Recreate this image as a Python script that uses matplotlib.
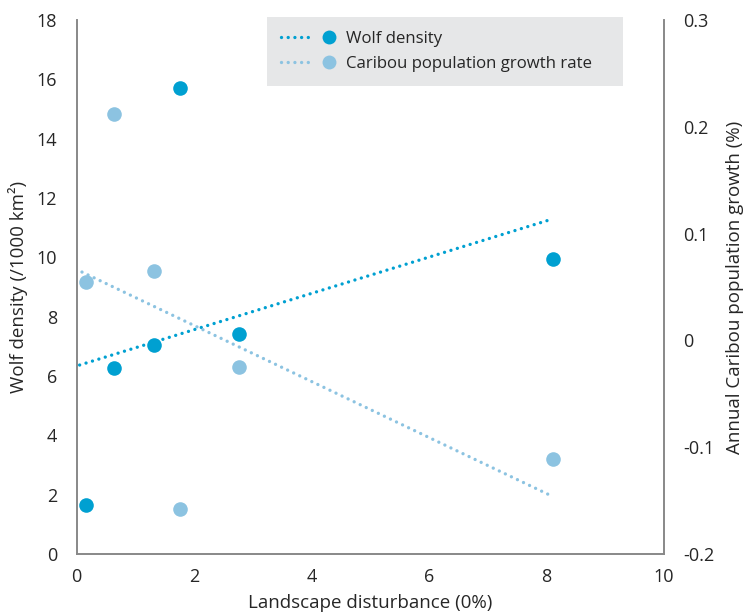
import matplotlib
matplotlib.use("Agg")
import matplotlib.pyplot as plt
from matplotlib.lines import Line2D
from matplotlib.legend_handler import HandlerBase

plt.rcParams['font.family'] = ['Open Sans', 'DejaVu Sans']

# data
disturbance = [0.15, 0.64, 1.32, 1.76, 2.77, 8.11]
wolf_density = [1.65, 6.27, 7.05, 15.72, 7.40, 9.93]
caribou_growth = [0.055, 0.212, 0.065, -0.158, -0.025, -0.111]

# trend line end points
wolf_trend_x = [0.05, 8.08]
wolf_trend_y = [6.37, 11.28]
caribou_trend_x = [0.09, 8.1]
caribou_trend_y = [0.064, -0.146]

dark = '#00a0d1'
light = '#8cc3e1'
grey = '#888888'
txt = '#262626'

fig = plt.figure(figsize=(7.55, 6.14), dpi=100)
ax = fig.add_axes([76.7/755, 60/614, 587.3/755, 534/614])
ax2 = ax.twinx()

dots = (0, (0.01, 2.0))
ax.plot(wolf_trend_x, wolf_trend_y, color=dark, lw=2.4, ls=dots, dash_capstyle='round')
ax2.plot(caribou_trend_x, caribou_trend_y, color=light, lw=2.4, ls=dots, dash_capstyle='round')
ax.plot(disturbance, wolf_density, 'o', color=dark, ms=10.5, mew=0)
ax2.plot(disturbance, caribou_growth, 'o', color=light, ms=10.5, mew=0)

ax.set_xlim(0, 10)
ax.set_ylim(0, 18)
ax2.set_ylim(-0.2, 0.3)
ax.set_xticks(range(0, 11, 2))
ax.set_yticks(range(0, 19, 2))
ax2.set_yticks([-0.2, -0.1, 0, 0.1, 0.2, 0.3])
ax2.set_yticklabels(['-0.2', '-0.1', '0', '0.1', '0.2', '0.3'])

for a in (ax, ax2):
    a.spines['top'].set_visible(False)
    for s in ('left', 'right', 'bottom'):
        a.spines[s].set_color(grey)
        a.spines[s].set_linewidth(1.2)
    a.tick_params(length=0, labelsize=13, labelcolor=txt)
ax.tick_params(axis='y', pad=14)
ax.tick_params(axis='x', pad=10)
ax2.tick_params(axis='y', pad=14)

ax.set_xlabel('Landscape disturbance (0%)', fontsize=13.5, color=txt, labelpad=6)
ax.set_ylabel('Wolf density (/1000 km²)', fontsize=13.5, color=txt, labelpad=6)
ax2.set_ylabel('Annual Caribou population growth (%)', fontsize=13.5, color=txt, labelpad=8)


class LineThenDot(HandlerBase):
    # dotted line segment followed by a separate marker
    def create_artists(self, legend, orig, xd, yd, w, h, fontsize, trans):
        y = h / 2 - yd
        c = orig.get_color()
        line = Line2D([-xd, -xd + 0.59 * w], [y, y], color=c, lw=2.4, ls=dots,
                      dash_capstyle='round', transform=trans)
        dot = Line2D([-xd + 0.86 * w], [y], color=c, ls='none', marker='o',
                     ms=10, mew=0, transform=trans)
        return [line, dot]


handles = [Line2D([], [], color=dark), Line2D([], [], color=light)]
leg = ax2.legend(handles, ['Wolf density', 'Caribou population growth rate'],
                 handler_map={Line2D: LineThenDot()},
                 loc='upper left', bbox_to_anchor=(0.324, 1.006, 0.606, 0.0),
                 mode='expand', fontsize=12.05, frameon=True, fancybox=False,
                 facecolor='#e6e7e8', edgecolor='none', framealpha=1,
                 borderpad=0.85, labelspacing=0.52, handlelength=3.35,
                 handletextpad=0.5, borderaxespad=0)
for t in leg.get_texts():
    t.set_color(txt)

fig.savefig('out.png', dpi=100)
